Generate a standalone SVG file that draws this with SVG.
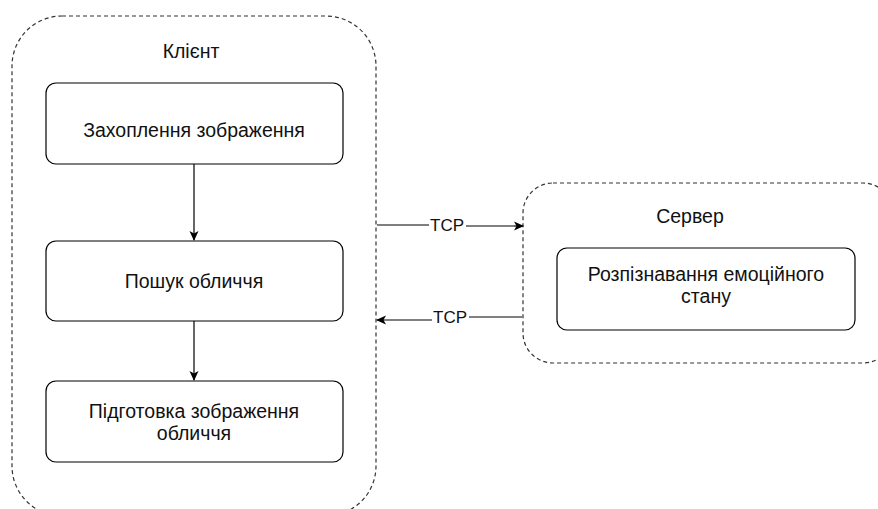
<svg xmlns="http://www.w3.org/2000/svg" width="878" height="509" viewBox="0 0 878 509">
<style>
.cont{fill:none;stroke:#333;stroke-width:1.2;stroke-dasharray:4 3}
.node{fill:#fff;stroke:#000;stroke-width:1.2}
.t{font-family:"Liberation Sans",Arial,sans-serif;font-size:19.5px;fill:#111;text-anchor:middle}
.tcp{font-family:"Liberation Sans",Arial,sans-serif;font-size:17px;fill:#111;text-anchor:middle}
.e{stroke:#000;stroke-width:1.2;fill:none}
.g{stroke:#808080;stroke-width:2;fill:none}
</style>
<defs>
<marker id="ah" viewBox="0 0 10 10" refX="9" refY="5" markerWidth="10" markerHeight="10" markerUnits="userSpaceOnUse" orient="auto">
<path d="M0,0.5 L10,5 L0,9.5 L2.5,5 Z" fill="#000"/>
</marker>
</defs>
<g id="client">
<rect class="cont" x="12" y="16" width="364" height="500" rx="50" ry="50"/>
<text class="t" x="191" y="58">Клієнт</text>
</g>
<g id="server">
<rect class="cont" x="523" y="183" width="370" height="180" rx="30" ry="30"/>
<text class="t" x="690" y="223">Сервер</text>
</g>
<g id="n1">
<rect class="node" x="46" y="83" width="297" height="81" rx="10" ry="10"/>
<text class="t" x="194" y="137">Захоплення зображення</text>
</g>
<g id="n2">
<rect class="node" x="46" y="241" width="297" height="80" rx="10" ry="10"/>
<text class="t" x="194" y="288">Пошук обличчя</text>
</g>
<g id="n3">
<rect class="node" x="46" y="381" width="297" height="81" rx="10" ry="10"/>
<text class="t" x="194" y="418">Підготовка зображення</text>
<text class="t" x="194" y="440">обличчя</text>
</g>
<g id="n4">
<rect class="node" x="557" y="248" width="298" height="82" rx="10" ry="10"/>
<text class="t" x="706" y="281">Розпізнавання емоційного</text>
<text class="t" x="706" y="303">стану</text>
</g>
<g id="connectors">
<line class="e" x1="194" y1="164" x2="194" y2="240" marker-end="url(#ah)"/>
<line class="e" x1="194" y1="321" x2="194" y2="380" marker-end="url(#ah)"/>
<line class="e" x1="377" y1="225" x2="429" y2="225"/>
<line class="g" x1="466" y1="226" x2="514" y2="226"/>
<line class="e" x1="514" y1="226" x2="523" y2="226" marker-end="url(#ah)"/>
<text class="tcp" x="447" y="231">TCP</text>
<line class="g" x1="523" y1="317" x2="469" y2="317"/>
<line class="e" x1="432" y1="320" x2="377" y2="320" marker-end="url(#ah)"/>
<text class="tcp" x="450" y="323">TCP</text>
</g>
</svg>
